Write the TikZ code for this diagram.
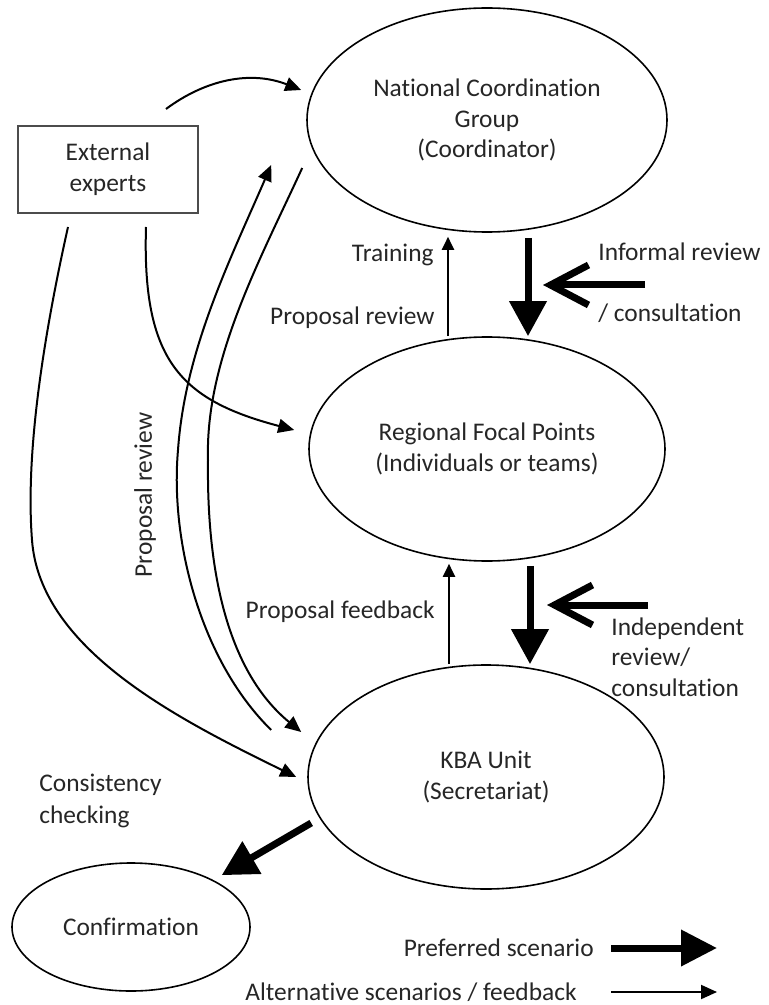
\documentclass[tikz,border=0pt]{standalone}
\usepackage{fontspec}
\setmainfont{Carlito}[Ligatures={NoCommon,NoContextual},RawFeature=-calt]
\usetikzlibrary{arrows.meta,shapes.geometric,calc}
\begin{document}
\begin{tikzpicture}[x=0.5pt,y=-0.5pt,
  every node/.style={font=\fontsize{12.7}{15.3}\selectfont, text=black!85},
  bubble/.style={ellipse, draw, line width=0.8pt, align=center, inner sep=0pt},
  thinarr/.style={line width=1pt, -{Triangle[length=6.5pt,width=6pt]}},
  curvearr/.style={line width=1pt, -{Triangle[length=8pt,width=7pt]}},
  thickarr/.style={line width=3.5pt, -{Triangle[length=17.5pt,width=18pt]}},
  chevarr/.style={line width=3.5pt, -{Straight Barb[length=19pt,width=20pt]}},
  lbl/.style={inner sep=0pt}
]
\useasboundingbox (0,0) rectangle (768,1005);

% main nodes
\node[bubble, minimum width=180pt, minimum height=112pt] (nat) at (487,120)
  {National Coordination\\Group\\(Coordinator)};
\node[bubble, minimum width=178pt, minimum height=112pt] (reg) at (487,449)
  {Regional Focal Points\\(Individuals or teams)};
\node[bubble, minimum width=178pt, minimum height=112pt] (kba) at (486,777)
  {KBA Unit\\(Secretariat)};
\node[bubble, minimum width=119pt, minimum height=64pt] (conf) at (131,927)
  {Confirmation};
\node[draw=black!70, line width=1pt, minimum width=90pt, minimum height=43.5pt,
  align=center, inner sep=0pt] (ext) at (108,169.5) {External\\experts};

% helper x positions
\coordinate (xL) at (448,0);
\coordinate (xR) at (528,0);
\coordinate (xL2) at (449,0);
\coordinate (xR2) at (530,0);

% vertical arrows between ellipses
\draw[thinarr, shorten >=2pt] (reg.north -| xL) -- (nat.south -| xL);
\draw[thickarr] ($(nat.south -| xR)+(0,5)$) -- (reg.north -| xR);
\draw[thinarr, shorten >=1pt] (kba.north -| xL2) -- (reg.south -| xL2);
\draw[thickarr] ($(reg.south -| xR2)+(0,4)$) -- (kba.north -| xR2);

% chevron arrows
\coordinate (inf1) at (645,285);
\coordinate (inf2) at (543,285);
\draw[chevarr] (inf1) -- (inf2);
\coordinate (ind1) at (648,605);
\coordinate (ind2) at (547,605);
\draw[chevarr] (ind1) -- (ind2);

% to confirmation
\draw[thickarr] ($(kba.west)+(4,46)$) -- ($(conf.north east)+(6,-6)$);

% curves from External experts
\draw[curvearr] ($(ext.north)+(58,-16)$) .. controls (205,80) and (250,70) .. ($(nat.west)+(-5,-30)$);
\draw[curvearr] ($(ext.south)+(38,13)$) .. controls (142,360) and (180,400) .. ($(reg.west)+(-14,-19)$);
\draw[curvearr] ($(ext.south)+(-40,13)$) .. controls (45,330) and (25,450) .. (32,540)
  .. controls (40,650) and (180,720) .. ($(kba.west)+(-11,0)$);

% parallel curves KBA <-> National
\draw[curvearr] ($(kba.west)+(-36,-47)$) .. controls (200,660) and (170,540) .. (178,450)
  .. controls (185,350) and (230,260) .. ($(nat.west)+(-35,45)$);
\draw[curvearr] ($(nat.west)+(-4,48)$) .. controls (260,260) and (205,360) .. (208,460)
  .. controls (206,620) and (250,690) .. ($(kba.west)+(-6,-45)$);

% labels
\node[lbl, anchor=east] (ltrain) at (434,255) {Training};
\node[lbl, anchor=east] (lpr1) at (435,318) {Proposal review};
\node[lbl, anchor=west] (linf1) at (598,252) {Informal review};
\node[lbl, anchor=west] (linf2) at (598,313) {/ consultation};
\node[lbl, anchor=east] (lfb) at (435,612) {Proposal feedback};
\node[lbl, anchor=west, align=left] (lind) at (611,657) {Independent\\review/\\consultation};
\node[lbl, anchor=west, align=left, font=\fontsize{12.7}{16}\selectfont] (lcons) at (39,801) {Consistency\\checking};
\node[lbl, rotate=90] (lpr2) at (145,495) {Proposal review};

% legend
\node[lbl, anchor=east] (lpref) at (594,948) {Preferred scenario};
\node[lbl, anchor=east] (lalt) at (577,992) {Alternative scenarios / feedback};
\coordinate (lg1s) at (611,948);
\coordinate (lg1e) at (717,948);
\coordinate (lg2s) at (611,992);
\coordinate (lg2e) at (717,992);
\draw[line width=3.5pt, -{Triangle[length=18pt,width=17.5pt]}] (lg1s) -- (lg1e);
\draw[curvearr] (lg2s) -- (lg2e);
\end{tikzpicture}
\end{document}
